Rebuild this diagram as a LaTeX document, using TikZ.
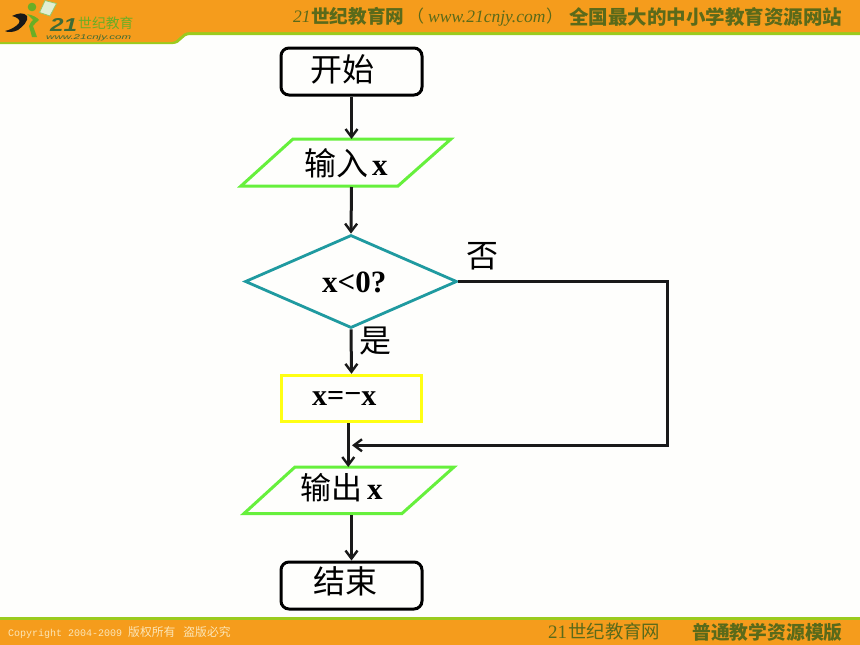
\documentclass[tikz,border=0pt]{standalone}
\usepackage{fontspec}
\usepackage{graphicx}
\setmainfont{Liberation Serif}
\setmonofont{Liberation Mono}
\setsansfont{Liberation Sans}
\newfontfamily\cjk{Noto Sans CJK SC}
\usetikzlibrary{shapes.geometric,arrows.meta}
\definecolor{pagebg}{HTML}{FEFEFC}
\definecolor{barorange}{HTML}{F59C1C}
\definecolor{bargreen}{HTML}{9BCB1E}
\definecolor{bartext}{HTML}{5A6A1A}
\definecolor{logogreen}{HTML}{6BAE25}
\definecolor{logodark}{HTML}{3F6B35}
\definecolor{paraline}{HTML}{66F03C}
\definecolor{diamline}{HTML}{1F9AA0}
\definecolor{rectline}{HTML}{FFFF14}
\definecolor{pale}{HTML}{FBE6B8}
\tikzset{
  flowarrow/.style={line width=3pt,draw=black!90,-{Straight Barb[length=8pt,width=12pt,line width=2.4pt]}},
  terminal/.style={draw=black,line width=3pt,rounded corners=8pt,minimum width=141pt,minimum height=47pt,inner sep=0pt},
  ioline/.style={draw=paraline,line width=3pt,line join=miter},
  decision/.style={draw=diamline,line width=2.8pt,diamond,aspect=2.27,minimum width=212pt,minimum height=93pt,inner sep=2pt},
  process/.style={draw=rectline,line width=3.4pt,minimum width=140pt,minimum height=46pt,inner sep=0pt},
  cjklabel/.style={font=\cjk\fontsize{32}{34}\selectfont,inner sep=0pt,anchor=base west},
  latinlabel/.style={font=\bfseries\fontsize{31}{34}\selectfont,inner sep=0pt,anchor=base west},
  bartxt/.style={text=bartext,inner sep=0pt,anchor=base west},
}
\begin{document}
\begin{tikzpicture}[x=1pt,y=-1pt]
\useasboundingbox (0,0) rectangle (860,645);
\fill[pagebg] (0,0) rectangle (860,645);
% header band
\fill[bargreen] (0,0) -- (860,0) -- (860,35) -- (190,35) .. controls (182,35) and (181,44) .. (173,44) -- (0,44) -- cycle;
\fill[barorange] (0,0) -- (860,0) -- (860,32) -- (190,32) .. controls (180,32) and (179,42) .. (171,42) -- (0,42) -- cycle;
% footer band
\fill[bargreen] (0,617) rectangle (860,620);
\fill[barorange] (0,619.5) rectangle (860,645);
% logo
\fill[white!80!logogreen,draw=logogreen!70!white,line width=0.8pt] (39.5,12.5) -- (45,0.5) -- (56.5,3.5) -- (50,16) -- cycle;
\fill[logogreen] (32,7) circle (4.3);
\fill[black!90] (12,16) .. controls (18,13) and (24,12) .. (27,16) .. controls (29,21) and (22,27) .. (18,30) .. controls (14,32) and (8,33) .. (5,31) .. controls (10,30) and (16,27) .. (19,23) .. controls (21,20) and (17,17) .. (12,16) -- cycle;
\fill[logogreen] (27,14) .. controls (32,15) and (37,17) .. (39,20) .. controls (37,22) and (34,24) .. (33,26) -- (37,37) -- (32,37) -- (29,26) .. controls (30,23) and (32,21) .. (33,20) .. controls (31,18) and (29,16) .. (27,14) -- cycle;
\node[anchor=base west,inner sep=0pt,text=logodark,font=\sffamily\bfseries\itshape\fontsize{18}{20}\selectfont] (logoa) at (50,31) {\resizebox{27pt}{13pt}{21}};
\node[anchor=base west,inner sep=0pt,text=logogreen,font=\cjk\fontsize{13.8}{14}\selectfont] (logob) at (78,28) {世纪教育};
\node[anchor=base west,inner sep=0pt,text=logodark,font=\sffamily\itshape\fontsize{8}{10}\selectfont] (logoc) at (46,39) {\resizebox{85pt}{5pt}{www.21cnjy.com}};
% header and footer text
\node[bartxt,font=\itshape\fontsize{17.5}{20}\selectfont] (h1) at (293,23) {21};
\node[bartxt,font=\cjk\bfseries\fontsize{18.6}{20}\selectfont] (h2) at (311,23.5) {世纪教育网};
\node[bartxt,font=\cjk\fontsize{17}{20}\selectfont] (h3) at (407,23) {（};
\node[bartxt,font=\itshape\fontsize{17.5}{20}\selectfont] (h4) at (428,23) {www.21cnjy.com};
\node[bartxt,font=\cjk\fontsize{17}{20}\selectfont] (h5) at (546,23) {）};
\node[bartxt,font=\cjk\bfseries\fontsize{19.5}{20}\selectfont] (h6) at (569,24) {全国最大的中小学教育资源网站};
\node[anchor=base west,inner sep=0pt,text=pale,font=\ttfamily\fontsize{10}{12}\selectfont] (f1) at (8,636) {Copyright 2004-2009 \cjk\fontsize{11.8}{12}\selectfont 版权所有\kern8pt 盗版必究};
\node[bartxt,font=\fontsize{19}{20}\selectfont] (f2) at (548,638) {21};
\node[bartxt,font=\cjk\fontsize{18.4}{20}\selectfont] (f3) at (568,638.5) {世纪教育网};
\node[bartxt,font=\cjk\bfseries\fontsize{18.8}{20}\selectfont] (f4) at (692,639) {普通教学资源模版};
% flow shapes
\node[terminal] (start) at (351.5,71.5) {};
\node[cjklabel] (startt) at (310,81) {开始};
\coordinate (inTL) at (293,139);
\coordinate (inTR) at (451,139);
\coordinate (inBR) at (398,186);
\coordinate (inBL) at (241,186);
\draw[ioline] (inTL) -- (inTR) -- (inBR) -- (inBL) -- cycle;
\node[cjklabel] (inputt) at (304,175) {输入\kern4pt\rmfamily\bfseries\fontsize{31}{34}\selectfont x};
\node[decision] (cond) at (351,281.5) {};
\node[latinlabel] (condt) at (322,292) {x<0?};
\node[process] (assign) at (351.5,398.5) {};
\node[latinlabel,font=\bfseries\fontsize{30}{34}\selectfont] (assignt) at (312,405) {x=\raisebox{2pt}{\textminus}x};
\coordinate (outTL) at (295,467);
\coordinate (outTR) at (454,467);
\coordinate (outBR) at (402,513.5);
\coordinate (outBL) at (244,513.5);
\draw[ioline] (outTL) -- (outTR) -- (outBR) -- (outBL) -- cycle;
\node[cjklabel,font=\cjk\fontsize{31}{34}\selectfont] (outputt) at (300,499) {输出\kern5pt\rmfamily\bfseries x};
\node[terminal] (finish) at (351.5,585.5) {};
\node[cjklabel] (finisht) at (313,593) {结束};
\node[cjklabel] (no) at (466,267) {否};
\node[cjklabel] (yes) at (359,352) {是};
% connector ends
\coordinate (turnA) at (667,281.5);
\coordinate (turnB) at (667,445.3);
\coordinate (joinpt) at (352,445.3);
\coordinate (assignOut) at (348.3,423);
\coordinate (outputIn) at (348.3,467);
\coordinate (inOut) at (351.5,187);
\coordinate (inIn) at (351.5,139);
\coordinate (outOut) at (351.5,515);
% connectors
\draw[flowarrow] (start.south) -- (inIn);
\draw[flowarrow] (inOut) -- (cond.north);
\draw[flowarrow] (cond.south) -- (assign.north);
\draw[flowarrow] (assignOut) -- (outputIn);
\draw[flowarrow] (outOut) -- (finish.north);
\draw[flowarrow] (cond.east) -- (turnA) -- (turnB) -- (joinpt);
\end{tikzpicture}
\end{document}
